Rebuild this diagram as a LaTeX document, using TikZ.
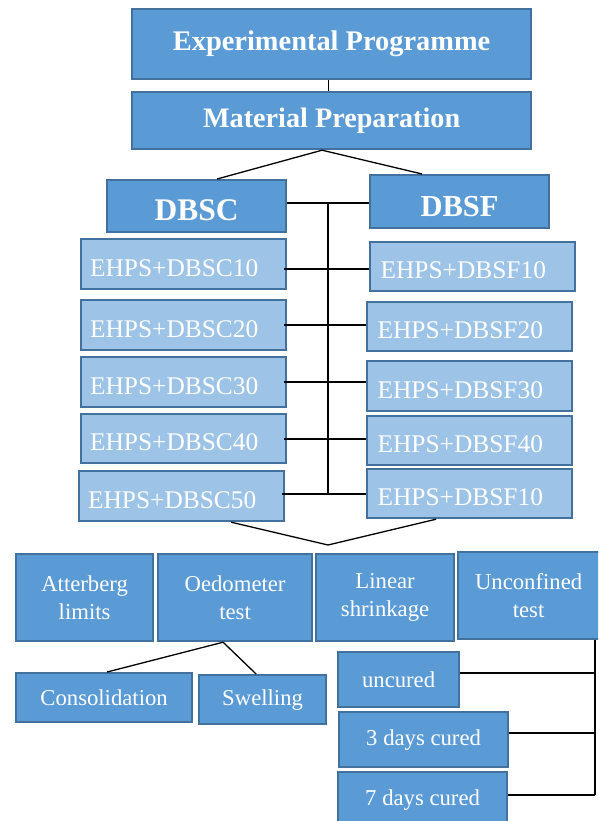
\documentclass[tikz,border=0pt]{standalone}
\usepackage{fontspec}
\setmainfont{Liberation Serif}
\definecolor{dk}{HTML}{5B9BD5}
\definecolor{lt}{HTML}{9DC3E6}
\definecolor{bd}{HTML}{41719C}
\begin{document}
\begin{tikzpicture}[x=1pt,y=-1pt,
  box/.style={draw=bd, line width=2.2pt, text=white, inner sep=0pt, anchor=north west, rectangle},
  dbox/.style={box, fill=dk},
  lbox/.style={box, fill=lt},
  cbox/.style={lbox, minimum width=205pt, minimum height=50pt, text width=187pt, inner xsep=9pt, align=left, text height=23.8pt, text depth=0pt, font=\fontsize{25.4}{28}\selectfont},
  fbox/.style={lbox, minimum width=205pt, minimum height=49pt, text width=184pt, inner xsep=10.5pt, align=left, text height=24.5pt, text depth=0pt, font=\fontsize{25.4}{28}\selectfont},
  tbox/.style={dbox, align=center, font=\fontsize{22.7}{27.5}\selectfont},
  conn/.style={draw=black, line width=1.3pt}]
\useasboundingbox (0,0) rectangle (598,821);
\fill[white] (0,0) rectangle (598,821);
\clip (0,0) rectangle (598,821);

% top
\node[dbox, minimum width=399pt, minimum height=70pt, font=\bfseries\fontsize{28.4}{30}\selectfont] (ep) at (131,8) {Experimental Programme};
\node[dbox, minimum width=399pt, minimum height=57pt, font=\bfseries\fontsize{28.2}{30}\selectfont] (mp) at (131,91) {Material Preparation};
\node[dbox, minimum width=179pt, minimum height=52pt, text height=29.5pt, text depth=0pt, font=\bfseries\fontsize{31.5}{33}\selectfont] (dbsc) at (106,179) {DBSC};
\node[dbox, minimum width=179pt, minimum height=53pt, text height=29pt, text depth=0pt, font=\bfseries\fontsize{30.5}{33}\selectfont] (dbsf) at (369,174) {DBSF};

% mixes
\node[cbox] (c10) at (80,238) {EHPS+DBSC10};
\node[cbox] (c20) at (80,299) {EHPS+DBSC20};
\node[cbox] (c30) at (80,356) {EHPS+DBSC30};
\node[cbox, minimum height=49pt] (c40) at (80,413) {EHPS+DBSC40};
\node[cbox] (c50) at (78,470) {EHPS+DBSC50};
\node[fbox] (f10) at (369,241) {EHPS+DBSF10};
\node[fbox] (f20) at (366,301) {EHPS+DBSF20};
\node[fbox, minimum height=50pt] (f30) at (366,360) {EHPS+DBSF30};
\node[fbox] (f40) at (366,415) {EHPS+DBSF40};
\node[fbox] (f50) at (366,468) {EHPS+DBSF10};

% tests
\node[tbox, minimum width=137pt, minimum height=87pt] (att) at (15,553) {Atterberg\\limits};
\node[tbox, minimum width=154pt, minimum height=87pt] (oed) at (157,553) {Oedometer\\test};
\node[tbox, minimum width=138pt, minimum height=87pt] (lin) at (315,553) {Linear\\shrinkage};
\node[tbox, minimum width=145pt, minimum height=87pt, text width=141pt] (unc) at (457,551) {\hspace*{-4pt}Unconfined\\\hspace*{-4pt}test};

\node[tbox, minimum width=176pt, minimum height=49pt] (cons) at (15,672) {Consolidation};
\node[tbox, minimum width=127pt, minimum height=49pt] (swe) at (198,674) {Swelling};
\node[tbox, minimum width=121pt, minimum height=55pt] (unr) at (337,651) {uncured};
\node[tbox, minimum width=169pt, minimum height=55pt] (d3) at (338,711) {3 days cured};
\node[tbox, minimum width=169pt, minimum height=56pt] (d7) at (337,771) {7 days cured};

% connectors top
\draw[conn] ([xshift=-3pt]ep.south) -- ([xshift=-3pt]mp.north);
\draw[conn] ([xshift=-9.5pt]mp.south) -- ([xshift=20.5pt]dbsc.north);
\draw[conn] ([xshift=-9.5pt]mp.south) -- ([xshift=-37.5pt]dbsf.north);

\coordinate (t0) at (328,203);
\coordinate (t1) at (328,269);
\coordinate (t2) at (328,325);
\coordinate (t3) at (328,382);
\coordinate (t4) at (328,439);
\coordinate (t5) at (328,494);
\draw[conn] (dbsc.east |- t0) -- (dbsf.west |- t0);
\draw[conn] (t0) -- (t5);
\draw[conn] ([xshift=-3pt]c10.east |- t1) -- (f10.west |- t1);
\draw[conn] ([xshift=-3pt]c20.east |- t2) -- (f20.west |- t2);
\draw[conn] ([xshift=-3pt]c30.east |- t3) -- (f30.west |- t3);
\draw[conn] ([xshift=-3pt]c40.east |- t4) -- (f40.west |- t4);
\draw[conn] ([xshift=-3pt]c50.east |- t5) -- (f50.west |- t5);

\coordinate (ap) at (328,545);
\draw[conn] ([xshift=49.5pt]c50.south) -- (ap) -- ([xshift=-33.5pt]f50.south);

% oedometer branches
\draw[conn] ([xshift=-12pt]oed.south) -- ([xshift=3pt]cons.north);
\draw[conn] ([xshift=-12pt]oed.south) -- ([xshift=-6.5pt]swe.north);

% unconfined branches
\coordinate (u1) at (595,673);
\coordinate (u2) at (595,733);
\coordinate (u3) at (595,795);
\draw[conn] (unc.south -| u1) -- (u3);
\draw[conn] (unr.east |- u1) -- (u1);
\draw[conn] (d3.east |- u2) -- (u2);
\draw[conn] (d7.east |- u3) -- (u3);
\end{tikzpicture}
\end{document}
